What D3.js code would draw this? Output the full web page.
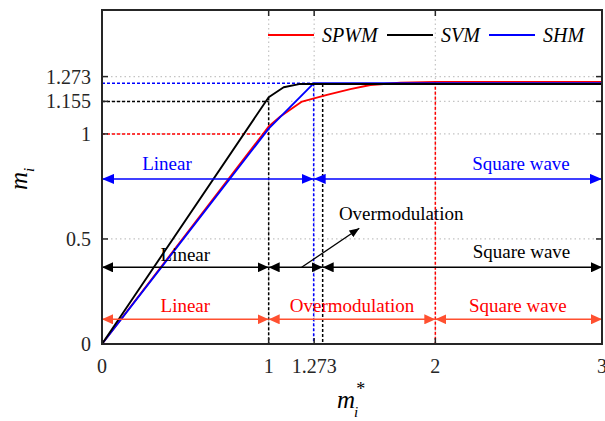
<!DOCTYPE html>
<html>
<head>
<meta charset="utf-8">
<script src="https://cdn.jsdelivr.net/npm/d3@7"></script>
<style>
  html, body { margin: 0; padding: 0; background: #fff; }
  svg text { font-family: "Liberation Serif", "Times New Roman", serif; }
</style>
</head>
<body>
<svg id="chart" width="605" height="421"></svg>
<script>
// ---------------- data ----------------
const xTicks = [0, 1, 1.273, 2, 3];
const xTickLabels = ["0", "1", "1.273", "2", "3"];
const yTicks = [0, 0.5, 1, 1.155, 1.273];
const yTickLabels = ["0", "0.5", "1", "1.155", "1.273"];
const gridX = [1, 1.273, 2];
const gridY = [0.5, 1, 1.155, 1.273];

const spwmX = [0, 1, 1.07, 1.2, 1.35, 1.49, 1.61, 1.79, 2, 3];
const spwmY = [0, 1.035, 1.083, 1.154, 1.186, 1.213, 1.233, 1.244, 1.248, 1.248];
const svmX = [0, 1, 1.09, 1.19, 3];
const svmY = [0, 1.175, 1.222, 1.238, 1.238];
const shmX = [0, 1, 1.27, 3];
const shmY = [0, 1.025, 1.241, 1.241];

const seriesNames = ["SPWM", "SVM", "SHM"];

// region arrows: [x0, x1] segments
const blueSegments = [[0, 1.27], [1.27, 3]];
const blackSegments = [[0, 1], [1, 1.324], [1.324, 3]];
const redSegments = [[0, 1], [1, 2], [2, 3]];
const blueLabels = ["Linear", "Square wave"];
const blackLabels = ["Linear", "Square wave"];
const redLabels = ["Linear", "Overmodulation", "Square wave"];
const overLabel = "Overmodulation";

// ---------------- layout ----------------
const M = {left: 102, top: 10, right: 602, bottom: 344};
const svg = d3.select("#chart");

const x = d3.scaleLinear().domain([0, 3]).range([M.left, M.right]);
const y = d3.scaleLinear().domain([0, 1.59]).range([M.bottom, M.top]);

const RED = "#ff0000", BLACK = "#000000", BLUE = "#0000ff", ORANGE = "#ff5030";
const FRAME = "#262626";

// defs: arrow markers
const defs = svg.append("defs");
function marker(id, color, len, half) {
  const m = defs.append("marker").attr("id", id)
    .attr("viewBox", `0 ${-half} ${len} ${2*half}`)
    .attr("refX", len).attr("refY", 0)
    .attr("markerWidth", len).attr("markerHeight", 2*half)
    .attr("markerUnits", "userSpaceOnUse")
    .attr("orient", "auto-start-reverse");
  m.append("path").attr("d", `M0,${-half}L${len},0L0,${half}Z`).attr("fill", color);
}
marker("arB", BLUE, 12, 5);
marker("arK", BLACK, 11, 5);
marker("arR", ORANGE, 11, 5);
marker("arK2", BLACK, 10, 4);

// grid
const grid = svg.append("g");
grid.selectAll("line.gx").data(gridX).join("line")
  .attr("x1", d => x(d)).attr("x2", d => x(d))
  .attr("y1", M.top).attr("y2", M.bottom)
  .attr("stroke", "#c4c4c4").attr("stroke-width", 1.2).attr("stroke-dasharray", "1.5,3");
grid.selectAll("line.gy").data(gridY).join("line")
  .attr("y1", d => y(d)).attr("y2", d => y(d))
  .attr("x1", M.left).attr("x2", M.right)
  .attr("stroke", "#c4c4c4").attr("stroke-width", 1.2).attr("stroke-dasharray", "1.5,3");

// guide dotted lines
const guides = svg.append("g").attr("fill", "none").attr("stroke-width", 1.5).attr("stroke-dasharray", "3,2");
const redSat = spwmY[spwmY.length - 1];
const svmSat = svmY[svmY.length - 1];
const shmSat = shmY[shmY.length - 1];
guides.append("line").attr("stroke", RED)
  .attr("x1", x(0)).attr("x2", x(1)).attr("y1", y(1)).attr("y2", y(1));
guides.append("line").attr("stroke", BLACK)
  .attr("x1", x(0)).attr("x2", x(1)).attr("y1", y(1.155)).attr("y2", y(1.155));
guides.append("line").attr("stroke", BLUE)
  .attr("x1", x(0)).attr("x2", x(1.27)).attr("y1", y(shmSat)).attr("y2", y(shmSat));
guides.append("line").attr("stroke", BLACK)
  .attr("x1", x(1)).attr("x2", x(1)).attr("y1", y(svmY[1])).attr("y2", y(0));
guides.append("line").attr("stroke", BLUE)
  .attr("x1", x(1.27)).attr("x2", x(1.27)).attr("y1", y(shmSat)).attr("y2", y(0));
guides.append("line").attr("stroke", BLACK)
  .attr("x1", x(1.324)).attr("x2", x(1.324)).attr("y1", y(svmSat)).attr("y2", y(0));
guides.append("line").attr("stroke", RED)
  .attr("x1", x(2)).attr("x2", x(2)).attr("y1", y(redSat)).attr("y2", y(0));

// curves
const line = d3.line().x(d => x(d[0])).y(d => y(d[1]));
const zip = (a, b) => a.map((v, i) => [v, b[i]]);
const curves = [
  {xs: spwmX, ys: spwmY, c: RED},
  {xs: shmX, ys: shmY, c: BLUE},
  {xs: svmX, ys: svmY, c: BLACK}
];
svg.append("g").selectAll("path").data(curves).join("path")
  .attr("d", d => line(zip(d.xs, d.ys)))
  .attr("fill", "none").attr("stroke", d => d.c).attr("stroke-width", 1.9)
  .attr("stroke-linejoin", "round");

// region arrows
function arrows(segs, yv, color, mk, width) {
  svg.append("g").selectAll("line").data(segs).join("line")
    .attr("x1", d => x(d[0])).attr("x2", d => x(d[1]))
    .attr("y1", y(yv)).attr("y2", y(yv))
    .attr("stroke", color).attr("stroke-width", width)
    .attr("marker-start", `url(#${mk})`).attr("marker-end", `url(#${mk})`);
}
arrows(blueSegments, 0.786, BLUE, "arB", 1.5);
arrows(blackSegments, 0.365, BLACK, "arK", 1.5);
arrows(redSegments, 0.1176, ORANGE, "arR", 1.5);

function label(t, xv, yPix, color) {
  svg.append("text").attr("x", x(xv)).attr("y", yPix)
    .attr("text-anchor", "middle").attr("font-size", 19).attr("fill", color).text(t);
}
label(blueLabels[0], 0.39, 170, BLUE);
label(blueLabels[1], 2.514, 170, BLUE);
label(blackLabels[0], 0.5, 261, BLACK);
label(blackLabels[1], 2.517, 258, BLACK);
label(redLabels[0], 0.5, 312, RED);
label(redLabels[1], 1.5, 312, RED);
label(redLabels[2], 2.495, 312, RED);
label(overLabel, 1.795, 220, BLACK);

// pointer arrow
svg.append("line")
  .attr("x1", x(1.198)).attr("y1", y(0.365))
  .attr("x2", x(1.544)).attr("y2", y(0.551))
  .attr("stroke", BLACK).attr("stroke-width", 1.3)
  .attr("marker-end", "url(#arK2)");

// frame
svg.append("rect").attr("x", M.left).attr("y", M.top)
  .attr("width", M.right - M.left).attr("height", M.bottom - M.top)
  .attr("fill", "none").attr("stroke", FRAME).attr("stroke-width", 2);

// ticks (inward, mirrored)
const tk = 6;
const tg = svg.append("g").attr("stroke", FRAME).attr("stroke-width", 1.5);
xTicks.forEach(v => {
  tg.append("line").attr("x1", x(v)).attr("x2", x(v)).attr("y1", M.bottom).attr("y2", M.bottom - tk);
  tg.append("line").attr("x1", x(v)).attr("x2", x(v)).attr("y1", M.top).attr("y2", M.top + tk);
});
yTicks.forEach(v => {
  tg.append("line").attr("y1", y(v)).attr("y2", y(v)).attr("x1", M.left).attr("x2", M.left + tk);
  tg.append("line").attr("y1", y(v)).attr("y2", y(v)).attr("x1", M.right).attr("x2", M.right - tk);
});

// tick labels
svg.append("g").selectAll("text").data(xTicks).join("text")
  .attr("x", d => x(d)).attr("y", M.bottom + 29)
  .attr("text-anchor", "middle").attr("font-size", 20).attr("fill", "#262626")
  .text((d, i) => xTickLabels[i]);
svg.append("g").selectAll("text").data(yTicks).join("text")
  .attr("x", M.left - 11).attr("y", d => y(d) + 7)
  .attr("text-anchor", "end").attr("font-size", 20).attr("fill", "#262626")
  .text((d, i) => yTickLabels[i]);

// legend
const legend = svg.append("g");
const legX = [268, 387, 489];
const legColors = [RED, BLACK, BLUE];
seriesNames.forEach((n, i) => {
  legend.append("line").attr("x1", legX[i]).attr("x2", legX[i] + 46)
    .attr("y1", 35).attr("y2", 35).attr("stroke", legColors[i]).attr("stroke-width", 1.8);
  legend.append("text").attr("x", legX[i] + 54).attr("y", 42)
    .attr("font-size", 20).attr("font-style", "italic").attr("fill", "#000").text(n);
});

// axis labels (single text elements with sub/superscripts)
const xl = svg.append("text").attr("x", 337).attr("y", 408)
  .attr("font-size", 25).attr("font-style", "italic");
xl.append("tspan").text("m");
xl.append("tspan").attr("font-size", 15).attr("dy", 9).attr("dx", -1).text("i");
xl.append("tspan").attr("font-size", 18).attr("font-style", "normal")
  .attr("dy", -22).attr("dx", -2).text("*");

const yl = svg.append("text").attr("transform", "translate(27,190) rotate(-90)")
  .attr("font-size", 25).attr("font-style", "italic");
yl.append("tspan").text("m");
yl.append("tspan").attr("font-size", 15).attr("dy", 7).attr("dx", 0).text("i");
</script>
</body>
</html>
